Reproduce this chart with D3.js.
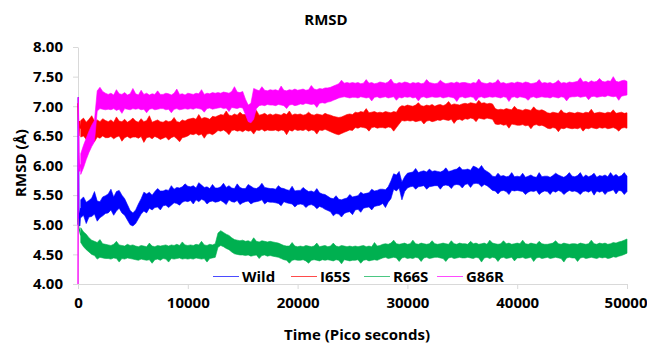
<!DOCTYPE html>
<html><head><meta charset="utf-8">
<script src="https://cdn.jsdelivr.net/npm/d3@7"></script>
<style>
body{margin:0;background:#fff;}
text{font-family:"Open Sans",sans-serif;font-weight:bold;fill:#000;}
</style></head>
<body><svg id="c" width="647" height="343"></svg>
<script>
// Start-up samples (ps) and the band samples every 250 ps (upper / lower envelope of the noisy trace)
const startTime = [0, 25, 75, 150, 250];
const bandStep = 250;
const xTicks = [0, 10000, 20000, 30000, 40000, 50000];
const yTicks = [4.0, 4.5, 5.0, 5.5, 6.0, 6.5, 7.0, 7.5, 8.0];
const seriesNames = ["Wild", "I65S", "R66S", "G86R"];
const seriesColors = ["#0000ff", "#ff0000", "#00b050", "#ff00ff"];

const wildStart = [5.0, 7.15, 5.3, 4.98, 5.28];
const i65sStart = [7.05, 6.85, 6.50, 6.75, 6.62];
const r66sStart = [5.05, 5.10, 4.95, 4.90, 4.82];
const g86rStart = [4.00, 7.15, 6.20, 5.90, 6.02];

const wildHi = [
5.42,5.47,5.38,5.41,5.45,5.56,5.40,5.39,5.47,5.49,
5.52,5.60,5.47,5.56,5.58,5.50,5.44,5.34,5.24,5.20,
5.25,5.35,5.44,5.55,5.52,5.55,5.50,5.56,5.61,5.57,
5.57,5.59,5.58,5.66,5.60,5.63,5.62,5.64,5.69,5.65,
5.64,5.66,5.62,5.71,5.67,5.63,5.64,5.61,5.68,5.62,
5.62,5.64,5.70,5.63,5.66,5.62,5.61,5.69,5.63,5.61,
5.61,5.68,5.65,5.62,5.61,5.64,5.70,5.63,5.62,5.61,
5.61,5.60,5.66,5.62,5.61,5.59,5.58,5.65,5.57,5.58,
5.58,5.63,5.59,5.56,5.57,5.55,5.61,5.54,5.52,5.51,
5.48,5.45,5.44,5.49,5.43,5.42,5.44,5.45,5.51,5.47,
5.48,5.49,5.55,5.52,5.53,5.54,5.60,5.57,5.58,5.60,
5.60,5.59,5.64,5.74,5.86,5.84,5.90,5.72,5.81,5.87,
5.88,5.89,5.95,5.88,5.90,5.91,5.89,5.94,5.90,5.91,
5.90,5.89,5.91,5.96,5.90,5.91,5.93,5.94,5.98,5.93,
5.93,5.94,5.92,5.99,5.97,5.94,6.00,5.93,5.90,5.87,
5.82,5.81,5.87,5.82,5.83,5.81,5.82,5.88,5.81,5.82,
5.81,5.87,5.80,5.82,5.84,5.81,5.80,5.88,5.81,5.82,
5.82,5.80,5.83,5.87,5.84,5.82,5.80,5.83,5.88,5.82,
5.81,5.83,5.88,5.80,5.84,5.81,5.83,5.87,5.80,5.83,
5.82,5.84,5.81,5.88,5.82,5.85,5.81,5.83,5.88,5.82];
const wildLo = [
5.12,5.16,5.02,5.13,5.14,5.18,5.06,5.12,5.15,5.19,
5.20,5.25,5.16,5.23,5.28,5.20,5.16,5.08,5.00,4.98,
5.02,5.10,5.18,5.23,5.20,5.28,5.25,5.29,5.30,5.25,
5.32,5.33,5.29,5.33,5.37,5.36,5.33,5.38,5.40,5.39,
5.41,5.35,5.42,5.39,5.43,5.41,5.35,5.39,5.40,5.38,
5.39,5.41,5.38,5.34,5.42,5.39,5.38,5.41,5.34,5.37,
5.39,5.40,5.35,5.38,5.39,5.40,5.42,5.35,5.39,5.38,
5.38,5.37,5.36,5.32,5.39,5.37,5.36,5.35,5.30,5.34,
5.35,5.34,5.29,5.33,5.34,5.32,5.27,5.31,5.29,5.26,
5.24,5.22,5.15,5.19,5.18,5.13,5.19,5.21,5.22,5.17,
5.25,5.26,5.21,5.28,5.29,5.30,5.25,5.31,5.32,5.33,
5.36,5.29,5.38,5.44,5.60,5.57,5.62,5.42,5.56,5.62,
5.64,5.65,5.60,5.64,5.65,5.66,5.60,5.64,5.65,5.66,
5.66,5.60,5.66,5.67,5.66,5.61,5.67,5.68,5.67,5.62,
5.68,5.69,5.63,5.69,5.70,5.69,5.64,5.68,5.66,5.62,
5.58,5.57,5.52,5.57,5.58,5.56,5.51,5.58,5.57,5.58,
5.57,5.56,5.51,5.55,5.57,5.56,5.58,5.51,5.55,5.57,
5.56,5.51,5.57,5.55,5.58,5.56,5.51,5.55,5.58,5.56,
5.57,5.55,5.51,5.56,5.57,5.55,5.58,5.50,5.57,5.55,
5.57,5.51,5.56,5.57,5.59,5.52,5.58,5.57,5.51,5.56];

const i65sHi = [
6.76,6.80,6.73,6.78,6.84,6.75,6.77,6.74,6.79,6.76,
6.74,6.77,6.73,6.82,6.75,6.74,6.78,6.73,6.76,6.80,
6.75,6.73,6.79,6.74,6.76,6.84,6.73,6.75,6.77,6.74,
6.73,6.76,6.74,6.75,6.81,6.74,6.73,6.77,6.75,6.78,
6.79,6.80,6.78,6.86,6.79,6.81,6.80,6.78,6.83,6.82,
6.84,6.86,6.85,6.92,6.85,6.84,6.87,6.85,6.90,6.86,
6.86,6.85,6.87,6.86,6.93,6.85,6.86,6.88,6.85,6.87,
6.85,6.87,6.86,6.85,6.88,6.86,6.92,6.85,6.87,6.86,
6.87,6.85,6.86,6.90,6.86,6.85,6.87,6.86,6.85,6.88,
6.86,6.85,6.83,6.82,6.81,6.82,6.84,6.86,6.87,6.86,
6.90,6.89,6.91,6.90,6.96,6.89,6.90,6.91,6.89,6.90,
6.89,6.91,6.90,6.89,6.91,6.90,6.98,7.01,7.00,7.02,
7.01,7.00,7.02,7.06,7.01,7.00,7.02,7.01,7.03,7.00,
7.02,7.03,7.01,7.03,7.08,7.02,7.04,7.03,7.02,7.04,
7.05,7.04,7.06,7.05,7.04,7.10,7.05,7.06,7.04,7.05,
7.04,6.96,6.94,6.95,6.94,6.96,6.95,6.94,7.00,6.95,
6.94,6.93,6.95,6.94,6.93,6.99,6.94,6.93,6.94,6.92,
6.89,6.88,6.90,6.89,6.88,6.94,6.89,6.88,6.90,6.89,
6.88,6.90,6.89,6.88,6.90,6.89,6.95,6.88,6.89,6.90,
6.89,6.88,6.90,6.89,6.94,6.88,6.89,6.90,6.88,6.89];
const i65sLo = [
6.48,6.50,6.44,6.49,6.47,6.40,6.48,6.46,6.50,6.47,
6.47,6.49,6.45,6.48,6.50,6.41,6.47,6.49,6.46,6.48,
6.48,6.46,6.49,6.39,6.47,6.48,6.45,6.49,6.47,6.44,
6.46,6.48,6.43,6.47,6.49,6.45,6.40,6.47,6.48,6.50,
6.53,6.52,6.54,6.51,6.53,6.46,6.53,6.54,6.52,6.55,
6.59,6.58,6.60,6.57,6.52,6.59,6.60,6.58,6.59,6.57,
6.60,6.58,6.59,6.53,6.60,6.59,6.61,6.58,6.60,6.59,
6.59,6.60,6.58,6.60,6.59,6.52,6.60,6.58,6.61,6.59,
6.60,6.59,6.61,6.58,6.60,6.59,6.53,6.60,6.59,6.61,
6.59,6.57,6.55,6.53,6.52,6.54,6.56,6.58,6.60,6.59,
6.64,6.63,6.65,6.64,6.63,6.58,6.64,6.65,6.63,6.64,
6.64,6.63,6.65,6.64,6.58,6.64,6.70,6.76,6.75,6.76,
6.75,6.76,6.74,6.75,6.76,6.70,6.75,6.76,6.74,6.75,
6.77,6.76,6.78,6.77,6.76,6.78,6.71,6.77,6.78,6.76,
6.79,6.78,6.80,6.79,6.74,6.80,6.79,6.78,6.80,6.79,
6.78,6.70,6.69,6.70,6.68,6.69,6.63,6.70,6.69,6.68,
6.68,6.69,6.67,6.68,6.62,6.68,6.69,6.67,6.68,6.66,
6.63,6.62,6.64,6.63,6.57,6.63,6.62,6.64,6.63,6.62,
6.63,6.62,6.64,6.58,6.63,6.62,6.64,6.63,6.62,6.64,
6.63,6.64,6.62,6.63,6.64,6.62,6.58,6.63,6.64,6.63];

const r66sHi = [
4.95,4.88,4.84,4.78,4.74,4.72,4.70,4.75,4.68,4.67,
4.66,4.65,4.67,4.72,4.66,4.65,4.64,4.67,4.65,4.66,
4.64,4.63,4.65,4.64,4.63,4.69,4.64,4.63,4.65,4.64,
4.65,4.66,4.64,4.66,4.65,4.67,4.65,4.71,4.66,4.65,
4.66,4.65,4.67,4.66,4.72,4.66,4.65,4.67,4.66,4.68,
4.86,4.90,4.87,4.84,4.82,4.78,4.75,4.74,4.73,4.74,
4.72,4.73,4.71,4.78,4.72,4.71,4.73,4.72,4.71,4.72,
4.71,4.70,4.69,4.67,4.65,4.64,4.64,4.70,4.64,4.63,
4.64,4.63,4.65,4.64,4.63,4.64,4.69,4.63,4.64,4.65,
4.63,4.64,4.69,4.64,4.63,4.65,4.64,4.63,4.64,4.63,
4.64,4.63,4.64,4.65,4.63,4.64,4.63,4.70,4.64,4.65,
4.67,4.68,4.67,4.69,4.74,4.68,4.67,4.68,4.69,4.67,
4.68,4.74,4.68,4.67,4.69,4.68,4.67,4.68,4.73,4.68,
4.67,4.68,4.69,4.68,4.67,4.73,4.68,4.67,4.69,4.68,
4.68,4.67,4.72,4.68,4.69,4.67,4.68,4.69,4.67,4.74,
4.69,4.68,4.67,4.68,4.73,4.68,4.69,4.67,4.68,4.69,
4.68,4.74,4.68,4.67,4.69,4.68,4.67,4.72,4.68,4.67,
4.67,4.68,4.69,4.73,4.68,4.67,4.69,4.68,4.67,4.68,
4.68,4.67,4.69,4.68,4.67,4.68,4.74,4.68,4.67,4.69,
4.68,4.69,4.67,4.68,4.70,4.69,4.71,4.72,4.74,4.76];
const r66sLo = [
4.70,4.63,4.58,4.54,4.50,4.48,4.42,4.45,4.44,4.43,
4.43,4.42,4.44,4.43,4.37,4.43,4.42,4.44,4.43,4.42,
4.41,4.40,4.42,4.41,4.40,4.41,4.35,4.41,4.42,4.40,
4.43,4.42,4.37,4.43,4.42,4.43,4.44,4.42,4.43,4.42,
4.43,4.42,4.44,4.43,4.42,4.43,4.37,4.43,4.44,4.45,
4.62,4.65,4.63,4.60,4.58,4.54,4.51,4.50,4.49,4.49,
4.48,4.49,4.47,4.48,4.49,4.43,4.48,4.49,4.47,4.48,
4.47,4.46,4.45,4.43,4.41,4.40,4.35,4.40,4.41,4.40,
4.40,4.41,4.39,4.35,4.40,4.41,4.40,4.39,4.41,4.40,
4.41,4.40,4.39,4.41,4.40,4.34,4.41,4.40,4.39,4.40,
4.40,4.41,4.35,4.40,4.41,4.39,4.40,4.41,4.40,4.42,
4.44,4.45,4.43,4.44,4.45,4.44,4.38,4.44,4.45,4.43,
4.44,4.43,4.45,4.44,4.38,4.44,4.45,4.43,4.44,4.45,
4.45,4.44,4.43,4.38,4.44,4.45,4.43,4.44,4.45,4.44,
4.44,4.45,4.44,4.43,4.45,4.44,4.37,4.44,4.45,4.43,
4.45,4.44,4.38,4.44,4.45,4.43,4.44,4.45,4.39,4.44,
4.44,4.45,4.43,4.44,4.45,4.38,4.44,4.45,4.43,4.44,
4.45,4.43,4.44,4.45,4.44,4.43,4.37,4.44,4.45,4.44,
4.44,4.38,4.44,4.45,4.43,4.44,4.45,4.44,4.43,4.45,
4.44,4.45,4.43,4.44,4.46,4.45,4.47,4.48,4.50,4.52];

const g86rHi = [
6.20,6.34,6.46,6.58,6.68,6.76,7.26,7.32,7.25,7.22,
7.20,7.22,7.19,7.28,7.21,7.20,7.23,7.19,7.21,7.30,
7.21,7.19,7.27,7.20,7.22,7.19,7.21,7.20,7.26,7.20,
7.20,7.22,7.21,7.19,7.22,7.29,7.20,7.21,7.19,7.22,
7.21,7.20,7.22,7.21,7.28,7.20,7.22,7.21,7.23,7.22,
7.23,7.22,7.24,7.23,7.22,7.25,7.33,7.24,7.23,7.25,
7.12,7.02,7.05,7.30,7.28,7.26,7.33,7.27,7.26,7.28,
7.27,7.28,7.26,7.34,7.27,7.26,7.28,7.27,7.29,7.27,
7.28,7.29,7.27,7.28,7.35,7.29,7.28,7.30,7.29,7.31,
7.31,7.32,7.34,7.36,7.38,7.44,7.39,7.40,7.39,7.40,
7.39,7.40,7.38,7.39,7.45,7.39,7.40,7.38,7.39,7.41,
7.40,7.39,7.41,7.46,7.39,7.38,7.40,7.39,7.41,7.40,
7.38,7.40,7.39,7.40,7.38,7.39,7.45,7.40,7.39,7.38,
7.39,7.44,7.40,7.38,7.39,7.40,7.39,7.41,7.39,7.40,
7.40,7.39,7.38,7.40,7.39,7.46,7.40,7.39,7.38,7.40,
7.39,7.40,7.45,7.39,7.40,7.38,7.39,7.40,7.39,7.41,
7.40,7.39,7.41,7.40,7.38,7.39,7.40,7.45,7.39,7.40,
7.39,7.40,7.38,7.40,7.44,7.39,7.40,7.39,7.41,7.40,
7.41,7.42,7.48,7.41,7.42,7.40,7.43,7.41,7.42,7.47,
7.42,7.41,7.43,7.42,7.50,7.42,7.41,7.43,7.44,7.42];
const g86rLo = [
5.85,5.96,6.10,6.22,6.32,6.40,6.92,6.96,6.95,6.94,
6.95,6.94,6.96,6.93,6.95,6.88,6.96,6.95,6.94,6.96,
6.95,6.96,6.94,6.95,6.89,6.95,6.96,6.94,6.95,6.96,
6.96,6.94,6.95,6.89,6.95,6.96,6.94,6.95,6.96,6.95,
6.96,6.95,6.97,6.96,6.95,6.90,6.96,6.97,6.95,6.96,
6.97,6.98,6.96,6.97,6.91,6.98,6.97,6.96,6.98,6.97,
6.86,6.74,6.72,6.78,6.96,7.01,7.02,7.01,7.03,7.02,
7.02,7.01,7.03,7.02,7.01,6.96,7.02,7.03,7.01,7.02,
7.04,7.03,7.05,7.04,7.03,7.04,6.98,7.05,7.06,7.05,
7.07,7.08,7.10,7.12,7.14,7.15,7.16,7.15,7.14,7.15,
7.15,7.14,7.16,7.15,7.14,7.15,7.09,7.15,7.16,7.14,
7.15,7.16,7.14,7.15,7.16,7.10,7.15,7.14,7.16,7.15,
7.16,7.14,7.15,7.09,7.15,7.16,7.14,7.15,7.16,7.15,
7.15,7.16,7.14,7.15,7.16,7.15,7.14,7.08,7.15,7.16,
7.14,7.15,7.16,7.15,7.09,7.15,7.16,7.14,7.15,7.16,
7.15,7.16,7.15,7.14,7.16,7.15,7.08,7.15,7.16,7.14,
7.16,7.15,7.14,7.10,7.15,7.16,7.14,7.15,7.16,7.15,
7.15,7.14,7.16,7.15,7.14,7.16,7.15,7.09,7.15,7.16,
7.16,7.17,7.15,7.16,7.17,7.11,7.16,7.17,7.15,7.16,
7.17,7.16,7.18,7.17,7.16,7.17,7.10,7.17,7.18,7.19];

const starts = [wildStart, i65sStart, r66sStart, g86rStart];
const highs = [wildHi, i65sHi, r66sHi, g86rHi];
const lows = [wildLo, i65sLo, r66sLo, g86rLo];
const bandTime = d3.range(bandStep, 50001, bandStep);

const svg = d3.select("#c");
const x = d3.scaleLinear().domain([0, 50000]).range([78, 627]);
const y = d3.scaleLinear().domain([4, 8]).range([284, 47]);

// axes
const xa = svg.append("g").attr("transform", "translate(0,284)")
  .call(d3.axisBottom(x).tickValues(xTicks).tickFormat(d3.format("d")).tickSize(5).tickSizeOuter(0).tickPadding(8));
const ya = svg.append("g").attr("transform", "translate(78,0)")
  .call(d3.axisLeft(y).tickValues(yTicks).tickFormat(d3.format(".2f")).tickSize(5).tickSizeOuter(0).tickPadding(10));
[xa, ya].forEach(a => {
  a.select(".domain").attr("stroke", "#d9d9d9");
  a.selectAll(".tick line").attr("stroke", "#d9d9d9");
  a.selectAll(".tick text").attr("font-size", 15).attr("font-family", "Open Sans").attr("font-weight", "bold").attr("fill", "#000");
});
// keep the last x label inside the window, as in the reference
xa.selectAll(".tick text").filter(d => d === 50000).attr("text-anchor", "end").attr("x", 20);

// series: noise band + start-up trace
const area = d3.area().x((d, i) => x(bandTime[i])).y0(d => y(d[0])).y1(d => y(d[1]));
const line = d3.line().x((d, i) => x(startTime[i])).y(d => y(d));
seriesNames.forEach((n, k) => {
  const pairs = lows[k].map((lo, i) => [lo, highs[k][i]]);
  svg.append("path").datum(pairs).attr("d", area)
    .attr("fill", seriesColors[k]).attr("stroke", seriesColors[k]).attr("stroke-width", 0.6);
  svg.append("path").datum(starts[k]).attr("d", line)
    .attr("fill", "none").attr("stroke", seriesColors[k]).attr("stroke-width", 1.3);
});

// titles
svg.append("text").attr("x", 326).attr("y", 25).attr("text-anchor", "middle").attr("font-size", 15).text("RMSD");
svg.append("text").attr("x", 357).attr("y", 340).attr("text-anchor", "middle").attr("font-size", 15).text("Time (Pico seconds)");
svg.append("text").attr("transform", "translate(26,163) rotate(-90)").attr("text-anchor", "middle").attr("font-size", 15).text("RMSD (Å)");

// legend
const legX = [213, 291, 364, 437];
const lg = svg.append("g").attr("transform", "translate(0,276.5)");
seriesNames.forEach((n, k) => {
  lg.append("line").attr("x1", legX[k]).attr("x2", legX[k] + 26).attr("y1", 0).attr("y2", 0)
    .attr("stroke", seriesColors[k]).attr("stroke-width", 1).attr("opacity", 0.7);
  lg.append("text").attr("x", legX[k] + 29).attr("y", 5.5).attr("font-size", 15).text(n);
});
</script></body></html>
